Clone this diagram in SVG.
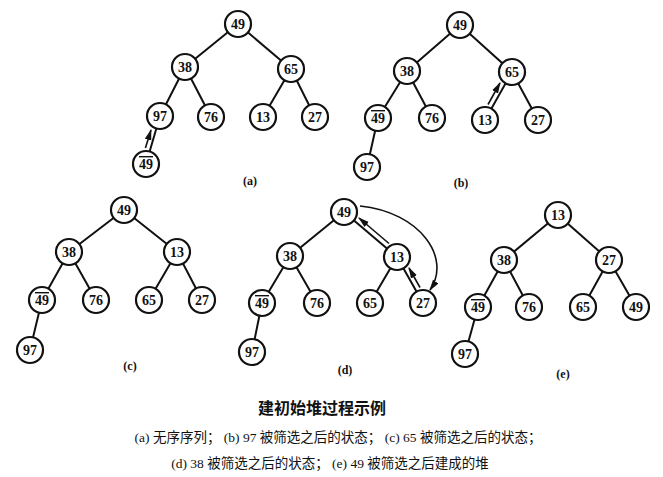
<svg xmlns="http://www.w3.org/2000/svg" width="663" height="477" viewBox="0 0 663 477">
<style>
.e{stroke:#111;stroke-width:2;fill:none}
.n circle{fill:#fff;stroke:#111;stroke-width:2.2}
.n text{font-family:"Liberation Serif","Noto Sans CJK SC",serif;font-size:14px;font-weight:bold;text-anchor:middle;fill:#111}
.l{font-family:"Liberation Serif",serif;font-size:12px;font-weight:bold;text-anchor:middle;fill:#111}
.c{font-family:"Liberation Serif","Noto Sans CJK SC",serif;fill:#111;text-anchor:middle}
.a{stroke:#111;stroke-width:1.6;fill:none}
</style>
<defs>
<marker id="h" viewBox="0 0 10 10" refX="9" refY="5" markerWidth="7" markerHeight="7" orient="auto"><path d="M0,2 L10,5 L0,8 z" fill="#111"/></marker>
</defs>
<g id="connectors">
<path class="e" d="M238,24L185,67M238,24L291,69M185,67L160,116M185,67L211,117M291,69L263,117M291,69L315,117M160,116L146,164"/>
<path class="a" d="M145.4,148L151,130" marker-end="url(#h)"/>
<path class="e" d="M460,25L407,71M460,25L512,72M407,71L378,118M407,71L432,118M512,72L485,120M512,72L538,120M378,118L367,167"/>
<path class="a" d="M488,104.5L500,83" marker-end="url(#h)"/>
<path class="e" d="M124,210L69,252M124,210L177,252M69,252L42,300M69,252L96,300M177,252L149,300M177,252L202,300M42,300L30,350"/>
<path class="e" d="M344,212L290,256M344,212L397,257M290,256L262,303M290,256L317,303M397,257L370,303M397,257L423,303M262,303L252,352"/>
<path class="a" d="M389,243.5L359,218" marker-end="url(#h)"/>
<path class="a" d="M420,287.5L409,268" marker-end="url(#h)"/>
<path class="a" d="M360,206C420,212 452,258 430,290" marker-end="url(#h)"/>
<path class="e" d="M558,215L504,260M558,215L609,260M504,260L478,307M504,260L529,307M609,260L583,307M609,260L636,307M478,307L465,354"/>
</g>
<g id="nodes" class="n">
<g id="a49"><circle cx="238" cy="24" r="13"/><text x="238" y="29">49</text></g>
<g id="a38"><circle cx="185" cy="67" r="13"/><text x="185" y="72">38</text></g>
<g id="a65"><circle cx="291" cy="69" r="13"/><text x="291" y="74">65</text></g>
<g id="a97"><circle cx="160" cy="116" r="13"/><text x="160" y="121">97</text></g>
<g id="a76"><circle cx="211" cy="117" r="13"/><text x="211" y="122">76</text></g>
<g id="a13"><circle cx="263" cy="117" r="13"/><text x="263" y="122">13</text></g>
<g id="a27"><circle cx="315" cy="117" r="13"/><text x="315" y="122">27</text></g>
<g id="a49b"><circle cx="146" cy="164" r="13"/><text x="146" y="169" text-decoration="overline">49</text></g>
<g id="b49"><circle cx="460" cy="25" r="13"/><text x="460" y="30">49</text></g>
<g id="b38"><circle cx="407" cy="71" r="13"/><text x="407" y="76">38</text></g>
<g id="b65"><circle cx="512" cy="72" r="13"/><text x="512" y="77">65</text></g>
<g id="b49b"><circle cx="378" cy="118" r="13"/><text x="378" y="123" text-decoration="overline">49</text></g>
<g id="b76"><circle cx="432" cy="118" r="13"/><text x="432" y="123">76</text></g>
<g id="b13"><circle cx="485" cy="120" r="13"/><text x="485" y="125">13</text></g>
<g id="b27"><circle cx="538" cy="120" r="13"/><text x="538" y="125">27</text></g>
<g id="b97"><circle cx="367" cy="167" r="13"/><text x="367" y="172">97</text></g>
<g id="c49"><circle cx="124" cy="210" r="13"/><text x="124" y="215">49</text></g>
<g id="c38"><circle cx="69" cy="252" r="13"/><text x="69" y="257">38</text></g>
<g id="c13"><circle cx="177" cy="252" r="13"/><text x="177" y="257">13</text></g>
<g id="c49b"><circle cx="42" cy="300" r="13"/><text x="42" y="305" text-decoration="overline">49</text></g>
<g id="c76"><circle cx="96" cy="300" r="13"/><text x="96" y="305">76</text></g>
<g id="c65"><circle cx="149" cy="300" r="13"/><text x="149" y="305">65</text></g>
<g id="c27"><circle cx="202" cy="300" r="13"/><text x="202" y="305">27</text></g>
<g id="c97"><circle cx="30" cy="350" r="13"/><text x="30" y="355">97</text></g>
<g id="d49"><circle cx="344" cy="212" r="13"/><text x="344" y="217">49</text></g>
<g id="d38"><circle cx="290" cy="256" r="13"/><text x="290" y="261">38</text></g>
<g id="d13"><circle cx="397" cy="257" r="13"/><text x="397" y="262">13</text></g>
<g id="d49b"><circle cx="262" cy="303" r="13"/><text x="262" y="308" text-decoration="overline">49</text></g>
<g id="d76"><circle cx="317" cy="303" r="13"/><text x="317" y="308">76</text></g>
<g id="d65"><circle cx="370" cy="303" r="13"/><text x="370" y="308">65</text></g>
<g id="d27"><circle cx="423" cy="303" r="13"/><text x="423" y="308">27</text></g>
<g id="d97"><circle cx="252" cy="352" r="13"/><text x="252" y="357">97</text></g>
<g id="e13"><circle cx="558" cy="215" r="13"/><text x="558" y="220">13</text></g>
<g id="e38"><circle cx="504" cy="260" r="13"/><text x="504" y="265">38</text></g>
<g id="e27"><circle cx="609" cy="260" r="13"/><text x="609" y="265">27</text></g>
<g id="e49b"><circle cx="478" cy="307" r="13"/><text x="478" y="312" text-decoration="overline">49</text></g>
<g id="e76"><circle cx="529" cy="307" r="13"/><text x="529" y="312">76</text></g>
<g id="e65"><circle cx="583" cy="307" r="13"/><text x="583" y="312">65</text></g>
<g id="e49"><circle cx="636" cy="307" r="13"/><text x="636" y="312">49</text></g>
<g id="e97"><circle cx="465" cy="354" r="13"/><text x="465" y="359">97</text></g>
</g>
<g id="labels">
<text class="l" x="250" y="185">(a)</text>
<text class="l" x="461" y="187">(b)</text>
<text class="l" x="130" y="370">(c)</text>
<text class="l" x="345" y="374">(d)</text>
<text class="l" x="563" y="378">(e)</text>
<text class="c" x="322" y="414" font-size="16" font-weight="bold">建初始堆过程示例</text>
<text class="c" x="338" y="442" font-size="13.5">(a) 无序序列； (b) 97 被筛选之后的状态； (c) 65 被筛选之后的状态；</text>
<text class="c" x="330" y="468" font-size="13.5">(d) 38 被筛选之后的状态； (e) 49 被筛选之后建成的堆</text>
</g>
</svg>
